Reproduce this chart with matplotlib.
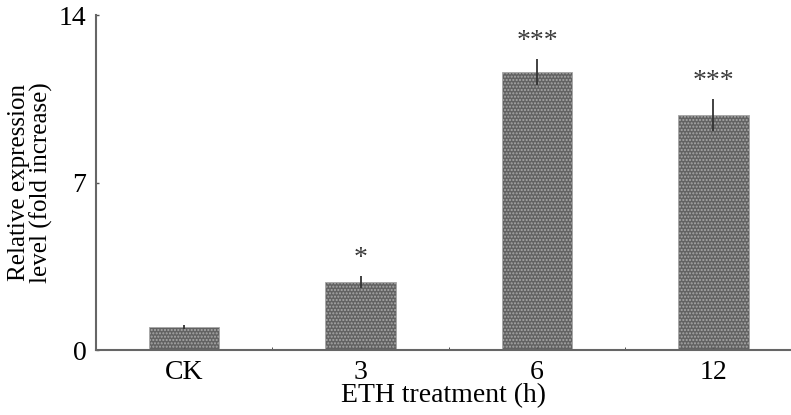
import matplotlib.pyplot as plt

plt.rcParams['font.family'] = ['Liberation Serif', 'DejaVu Serif']

categories = ['CK', '3', '6', '12']
values = [0.96, 2.85, 11.63, 9.83]
errors = [0.08, 0.25, 0.55, 0.67]
stars = ['', '*', '***', '***']

fig = plt.figure(figsize=(7.91, 4.15), dpi=100)
ax = fig.add_axes([0.1214, 0.1566, 0.8786, 0.8072])

x = list(range(len(categories)))
ax.bar(x, values, width=0.4, color='#626262', edgecolor='#a8a8a8',
       hatch='.....', linewidth=0.6)
ax.errorbar(x, values, yerr=errors, fmt='none', ecolor='#333333',
            elinewidth=1.3, capsize=0)

for xi, v, e, s in zip(x, values, errors, stars):
    if s:
        ax.text(xi, v + e + 0.2, s, ha='center', va='bottom',
                fontsize=20, color='#3a3a3a')

ax.set_xlim(-0.5, 3.44)
ax.set_ylim(0, 14)
ax.set_yticks([0, 7, 14])
ax.set_xticks(x)
ax.set_xticklabels(categories)
ax.set_xticks([0.5, 1.5, 2.5], minor=True)
ax.tick_params(axis='both', direction='in', length=2, width=1,
               color='#555555', labelsize=20, pad=7)
ax.tick_params(axis='x', which='minor', direction='in', length=2,
               color='#333333')

for side in ['top', 'right']:
    ax.spines[side].set_visible(False)
for side in ['left', 'bottom']:
    ax.spines[side].set_color('#666666')
    ax.spines[side].set_linewidth(1.5)

ax.set_ylabel('Relative expression\nlevel (fold increase)', fontsize=18,
              linespacing=1.0)
ax.yaxis.set_label_coords(-0.062, 0.5)
ax.set_xlabel('ETH treatment (h)', fontsize=20, labelpad=-1)

fig.savefig('out.png', dpi=100)
